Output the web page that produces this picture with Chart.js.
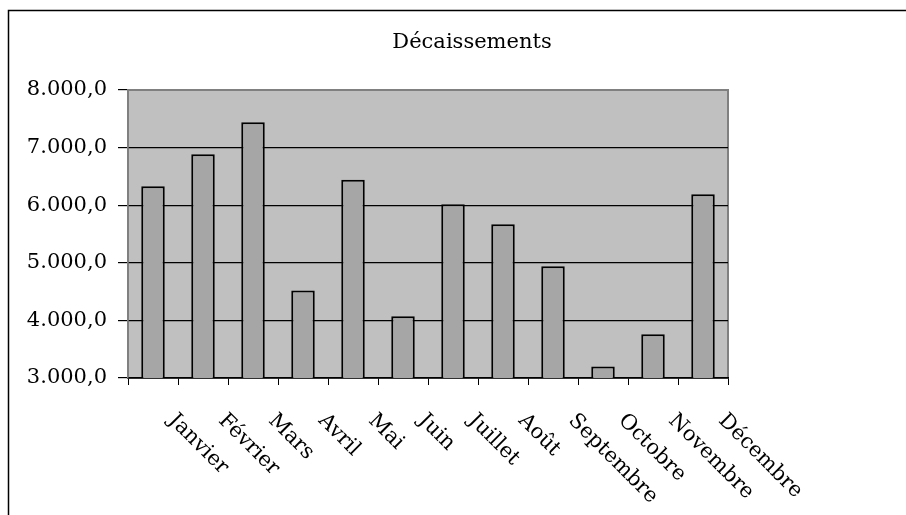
<!DOCTYPE html>
<html>
<head>
<meta charset="utf-8">
<script src="https://cdn.jsdelivr.net/npm/chart.js@4"></script>
<style>
    html, body { margin: 0; padding: 0; background: #fff; }
    #wrap { width: 906px; height: 515px; }
</style>
</head>
<body>
<div id="wrap"><canvas id="decaissementsChart"></canvas></div>
<script>
// Monthly disbursements
const months = ['Janvier', 'Février', 'Mars', 'Avril', 'Mai', 'Juin', 'Juillet', 'Août', 'Septembre', 'Octobre', 'Novembre', 'Décembre'];
const decaissements = [6330, 6885, 7440, 4520, 6440, 4070, 6015, 5670, 4940, 3200, 3760, 6190];
const chartTitle = 'Décaissements';
const yMin = 3000;
const yMax = 8000;
const yStep = 1000;

const serif = 'DejaVu Serif';

function formatFr(v) {
    return v.toLocaleString('de-DE', { minimumFractionDigits: 1, maximumFractionDigits: 1 });
}

// gray plot area + outer frame
const backgroundPlugin = {
    id: 'plotBackground',
    beforeDraw(chart) {
        const { ctx, chartArea } = chart;
        ctx.save();
        ctx.fillStyle = '#fff';
        ctx.fillRect(0, 0, chart.width, chart.height);
        ctx.strokeStyle = '#000';
        ctx.lineWidth = 1.5;
        ctx.strokeRect(8.5, 10.5, 1200, 1200);
        ctx.fillStyle = '#c0c0c0';
        ctx.fillRect(chartArea.left, chartArea.top, chartArea.right - chartArea.left, chartArea.bottom - chartArea.top);
        ctx.strokeStyle = '#808080';
        ctx.lineWidth = 2;
        ctx.strokeRect(chartArea.left, chartArea.top, chartArea.right - chartArea.left, chartArea.bottom - chartArea.top);
        ctx.restore();
    }
};

// title and month labels (slanted down to the right)
const textPlugin = {
    id: 'excelText',
    afterDraw(chart) {
        const { ctx } = chart;
        const xScale = chart.scales.x;
        ctx.save();
        ctx.fillStyle = '#000';
        ctx.font = '21px "' + serif + '"';
        ctx.textAlign = 'center';
        ctx.textBaseline = 'middle';
        ctx.fillText(chartTitle, 472, 43);

        ctx.textAlign = 'left';
        ctx.textBaseline = 'top';
        months.forEach((m, i) => {
            const x = xScale.getPixelForValue(i);
            ctx.save();
            ctx.translate(x + 26, 410);
            ctx.rotate(Math.PI / 4);
            ctx.fillText(m, 0, 0);
            ctx.restore();
        });
        ctx.restore();
    }
};

new Chart(document.getElementById('decaissementsChart'), {
    type: 'bar',
    data: {
        labels: months,
        datasets: [{
            label: chartTitle,
            data: decaissements,
            backgroundColor: '#a6a6a6',
            borderColor: '#000',
            borderWidth: 2,
            borderSkipped: false,
            barPercentage: 0.47,
            categoryPercentage: 1
        }]
    },
    options: {
        responsive: true,
        maintainAspectRatio: false,
        animation: false,
        layout: {
            padding: { left: 0, right: 178, top: 90, bottom: 0 }
        },
        plugins: {
            legend: { display: false },
            tooltip: { enabled: false },
            title: { display: false }
        },
        scales: {
            x: {
                offset: true,
                grid: {
                    offset: true,
                    drawOnChartArea: false,
                    drawTicks: true,
                    tickLength: 7,
                    tickColor: '#000'
                },
                border: { display: true, color: '#000', width: 1.5 },
                ticks: { display: false },
                afterFit(scale) { scale.height = 137; }
            },
            y: {
                min: yMin,
                max: yMax,
                ticks: {
                    stepSize: yStep,
                    color: '#000',
                    padding: 11,
                    font: { family: serif, size: 21 },
                    callback: (v) => formatFr(v)
                },
                grid: {
                    color: (c) => c.tick && c.tick.value === yMax ? '#808080' : '#000',
                    lineWidth: 1.2,
                    tickLength: 10,
                    tickColor: '#000'
                },
                border: { display: true, color: '#808080', width: 1.5 },
                afterFit(scale) { scale.width = 128; }
            }
        }
    },
    plugins: [backgroundPlugin, textPlugin]
});
</script>
</body>
</html>
